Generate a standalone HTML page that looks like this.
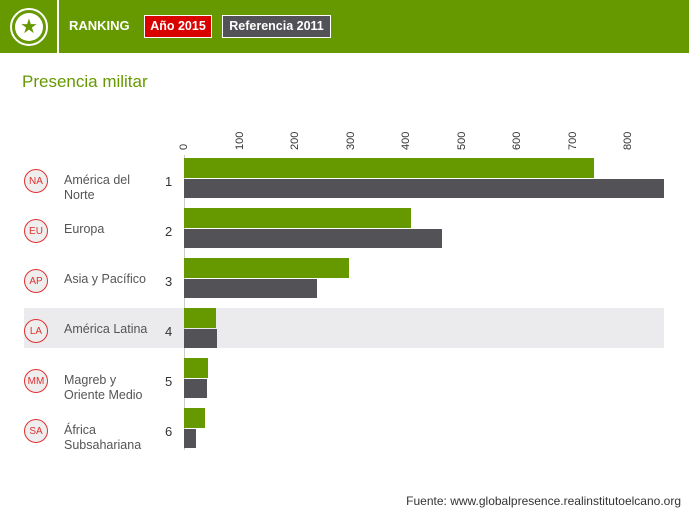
<!DOCTYPE html>
<html><head><style>
body{margin:0;width:689px;height:517px;background:#fff;font-family:"Liberation Sans",sans-serif;position:relative;overflow:hidden}
.a{position:absolute}
.hdr{left:0;top:0;width:689px;height:53px;background:#669900}
.lbl{font-size:12.5px;color:#555;line-height:15px}
.ic{width:22px;height:22px;border:1px solid #e03030;border-radius:50%;background:#eee;color:#e03030;font-size:10px;text-align:center;line-height:24px}
.num{font-size:13px;color:#333}
.g{background:#669900;height:20px}
.d{background:#535257;height:19px}
.t{font-size:11px;color:#333;transform:rotate(-90deg);transform-origin:left top}
</style></head><body>
<div class="a hdr"></div>
<div class="a" style="left:57px;top:0;width:2px;height:53px;background:#fff"></div>
<div class="a" style="left:10px;top:8px;width:34px;height:34px;border:2px solid #fff;border-radius:50%"></div>
<div class="a" style="left:15px;top:13px;width:28px;height:28px;background:#fff;border-radius:50%;color:#669900;font-size:20px;text-align:center;line-height:28px">★</div>
<div class="a" style="left:69px;top:18px;color:#fff;font-weight:bold;font-size:13px">RANKING</div>
<div class="a" style="left:144px;top:15px;width:66px;height:21px;background:#d90000;border:1px solid #fff;color:#fff;font-weight:bold;font-size:12.5px;text-align:center;line-height:21px">Año 2015</div>
<div class="a" style="left:222px;top:15px;width:107px;height:21px;background:#535257;border:1px solid #fff;color:#fff;font-weight:bold;font-size:12.5px;text-align:center;line-height:21px">Referencia 2011</div>
<div class="a" style="left:22px;top:72px;color:#669900;font-size:17px">Presencia militar</div>
<div class="a" style="left:24px;top:308px;width:640px;height:40px;background:#ebebed"></div>
<div class="a t" style="left:178px;top:150px">0</div>
<div class="a t" style="left:234px;top:150px">100</div>
<div class="a t" style="left:289px;top:150px">200</div>
<div class="a t" style="left:345px;top:150px">300</div>
<div class="a t" style="left:400px;top:150px">400</div>
<div class="a t" style="left:456px;top:150px">500</div>
<div class="a t" style="left:511px;top:150px">600</div>
<div class="a t" style="left:567px;top:150px">700</div>
<div class="a t" style="left:622px;top:150px">800</div>
<div class="a" style="left:184px;top:155px;width:1px;height:295px;background:#ccc"></div>

<div class="a ic" style="left:24px;top:169px">NA</div><div class="a lbl" style="left:64px;top:173px">América del<br>Norte</div><div class="a num" style="left:165px;top:174px">1</div>
<div class="a g" style="left:184px;top:158px;width:410px"></div><div class="a d" style="left:184px;top:179px;width:480px"></div>
<div class="a ic" style="left:24px;top:219px">EU</div><div class="a lbl" style="left:64px;top:222px">Europa</div><div class="a num" style="left:165px;top:224px">2</div>
<div class="a g" style="left:184px;top:208px;width:227px"></div><div class="a d" style="left:184px;top:229px;width:258px"></div>
<div class="a ic" style="left:24px;top:269px">AP</div><div class="a lbl" style="left:64px;top:272px">Asia y Pacífico</div><div class="a num" style="left:165px;top:274px">3</div>
<div class="a g" style="left:184px;top:258px;width:165px"></div><div class="a d" style="left:184px;top:279px;width:133px"></div>
<div class="a ic" style="left:24px;top:319px">LA</div><div class="a lbl" style="left:64px;top:322px">América Latina</div><div class="a num" style="left:165px;top:324px">4</div>
<div class="a g" style="left:184px;top:308px;width:32px"></div><div class="a d" style="left:184px;top:329px;width:33px"></div>
<div class="a ic" style="left:24px;top:369px">MM</div><div class="a lbl" style="left:64px;top:373px">Magreb y<br>Oriente Medio</div><div class="a num" style="left:165px;top:374px">5</div>
<div class="a g" style="left:184px;top:358px;width:24px"></div><div class="a d" style="left:184px;top:379px;width:23px"></div>
<div class="a ic" style="left:24px;top:419px">SA</div><div class="a lbl" style="left:64px;top:423px">África<br>Subsahariana</div><div class="a num" style="left:165px;top:424px">6</div>
<div class="a g" style="left:184px;top:408px;width:21px"></div><div class="a d" style="left:184px;top:429px;width:12px"></div>
<div class="a" style="right:8px;top:494px;font-size:12px;color:#333">Fuente: www.globalpresence.realinstitutoelcano.org</div>
</body></html>
